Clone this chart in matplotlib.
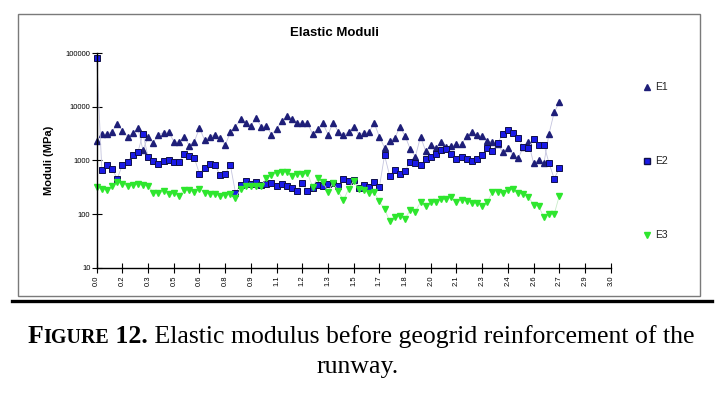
import matplotlib
matplotlib.use("Agg")
import matplotlib.pyplot as plt
from matplotlib.lines import Line2D
from matplotlib.patches import Rectangle

# chainage (km) of each test point
chainage = [0.00, 0.03, 0.06, 0.09, 0.12, 0.15, 0.18, 0.21, 0.24, 0.27,
            0.30, 0.33, 0.36, 0.39, 0.42, 0.45, 0.48, 0.51, 0.54, 0.57,
            0.60, 0.63, 0.66, 0.69, 0.72, 0.75, 0.78, 0.81, 0.84, 0.87,
            0.90, 0.93, 0.96, 0.99, 1.02, 1.05, 1.08, 1.11, 1.14, 1.17,
            1.20, 1.23, 1.26, 1.29, 1.32, 1.35, 1.38, 1.41, 1.44, 1.47,
            1.50, 1.53, 1.56, 1.59, 1.62, 1.65, 1.68, 1.71, 1.74, 1.77,
            1.80, 1.83, 1.86, 1.89, 1.92, 1.95, 1.98, 2.01, 2.04, 2.07,
            2.10, 2.13, 2.16, 2.19, 2.22, 2.25, 2.28, 2.31, 2.34, 2.37,
            2.40, 2.43, 2.46, 2.49, 2.52, 2.55, 2.58, 2.61, 2.64, 2.67,
            2.70]

# moduli (MPa)
e1 = [2360, 3100, 3100, 3470, 4820, 3620, 2760, 3190, 4000, 1560,
      2800, 2160, 3050, 3320, 3420, 2260, 2200, 2800, 1900, 2260,
      4060, 2390, 2800, 3050, 2640, 1930, 3370, 4300, 5900, 4960,
      4490, 6150, 4300, 4430, 3050, 3890, 5480, 6790, 6060, 5040,
      4960, 4960, 3140, 3840, 4960, 3050, 5040, 3470, 2970, 3420,
      4300, 3050, 3300, 3460, 4930, 2780, 1730, 2340, 2630, 4270,
      2860, 1640, 1180, 2780, 1500, 1920, 1730, 2240, 1780, 1880,
      2000, 2000, 2900, 3330, 2940, 2860, 2300, 2210, 2000, 1430,
      1700, 1270, 1090, 1800, 2210, 880, 1010, 880, 3150, 7900,
      12200]

e2 = [83000, 665, 838, 695, 458, 825, 952, 1290, 1420, 3140,
      1165, 995, 873, 995, 1010, 952, 952, 1325, 1233, 1115,
      560, 735, 873, 825, 535, 560, 825, 250, 349, 420,
      359, 403, 344, 364, 386, 329, 369, 333, 306, 269,
      380, 269, 311, 353, 339, 359, 385, 339, 457, 407,
      426, 302, 353, 320, 391, 320, 1250, 520, 673, 567,
      636, 950, 884, 811, 1050, 1178, 1340, 1570, 1640, 1340,
      1050, 1178, 1080, 977, 1050, 1280, 1730, 1530, 2150, 3070,
      3760, 3310, 2630, 1760, 1690, 2520, 1970, 1970, 898, 457,
      713]

e3 = [315, 293, 285, 329, 402, 364, 339, 349, 359, 344,
      339, 251, 243, 265, 233, 243, 220, 281, 277, 254,
      298, 251, 240, 233, 214, 226, 233, 199, 293, 339,
      333, 333, 333, 478, 543, 575, 619, 619, 521, 552,
      552, 584, 324, 471, 402, 262, 385, 268, 181, 294,
      423, 294, 287, 251, 253, 172, 122, 75, 90, 94,
      82, 121, 111, 168, 139, 165, 170, 188, 188, 205,
      168, 185, 178, 158, 163, 141, 170, 258, 262, 251,
      281, 289, 243, 240, 208, 150, 139, 87, 100, 99,
      220]

xticks = [0.0, 0.15, 0.3, 0.45, 0.6, 0.75, 0.9, 1.05, 1.2, 1.35, 1.5,
          1.65, 1.8, 1.95, 2.1, 2.25, 2.4, 2.55, 2.7, 2.85, 3.0]
xtick_labels = ["0.0", "0.2", "0.3", "0.5", "0.6", "0.8", "0.9", "1.1", "1.2",
                "1.3", "1.5", "1.7", "1.8", "2.0", "2.1", "2.3", "2.4", "2.6",
                "2.7", "2.9", "3.0"]
yticks = [10, 100, 1000, 10000, 100000]
series_names = ["E1", "E2", "E3"]

plt.rcParams["font.family"] = ["Liberation Sans", "DejaVu Sans"]

W, H = 725, 396
fig = plt.figure(figsize=(W / 100, H / 100), dpi=100)
fig.patch.set_facecolor("white")

def fx(px):
    return px / W

def fy(py):
    return (H - py) / H

# chart frame
fig.add_artist(Rectangle((fx(18), fy(296)), fx(700) - fx(18), fy(14) - fy(296),
                         transform=fig.transFigure, fill=False,
                         edgecolor="#7a7a7a", linewidth=1.0))

ax = fig.add_axes([fx(96.7), fy(267.7), fx(610.7) - fx(96.7), fy(53.3) - fy(267.7)])

line_kw = dict(linewidth=0.6, clip_on=False)
ax.plot(chainage, e1, color="#c4c4de", marker="^", markersize=3.8,
        markerfacecolor="#1e1e78", markeredgecolor="#1e1e78", **line_kw)
ax.plot(chainage, e2, color="#c4c4de", marker="s", markersize=4.8,
        markerfacecolor="#1a1ae8", markeredgecolor="#10104a",
        markeredgewidth=0.7, **line_kw)
ax.plot(chainage, e3, color="#c8ecc8", marker="v", markersize=4.0,
        markerfacecolor="#2ee62e", markeredgecolor="#2ee62e", **line_kw)

ax.set_yscale("log")
ax.set_ylim(10, 100000)
ax.set_xlim(0, 3.0)
ax.set_yticks(yticks)
ax.set_yticklabels([str(v) for v in yticks])
ax.minorticks_off()
ax.set_xticks(xticks)
ax.set_xticklabels(xtick_labels, rotation=90)
ax.tick_params(axis="both", direction="inout", length=7, width=0.8,
               labelsize=5.5, colors="black", pad=2)
ax.tick_params(axis="y", pad=1)
for s in ["top", "right"]:
    ax.spines[s].set_visible(False)
for s in ["left", "bottom"]:
    ax.spines[s].set_linewidth(1.0)
ax.patch.set_alpha(0)

ax.set_ylabel("Moduli (MPa)", fontsize=8, fontweight="bold", labelpad=8.5)
fig.text(fx(334), fy(33), "Elastic Moduli", fontsize=9.5, fontweight="bold",
         ha="center", va="center")

# legend on the right
legend_marks = [("^", "#1e1e78", "#1e1e78", 3.8, 87),
                ("s", "#1a1ae8", "#10104a", 4.2, 161),
                ("v", "#2ee62e", "#2ee62e", 4.0, 235)]
for name, (mk, fc, ec, ms, py) in zip(series_names, legend_marks):
    fig.add_artist(Line2D([fx(647)], [fy(py)], transform=fig.transFigure,
                          marker=mk, markersize=ms, markerfacecolor=fc,
                          markeredgecolor=ec, linestyle="none"))
    fig.text(fx(655), fy(py), name, fontsize=7.5, ha="left", va="center",
             color="#222222")

# thick rule under the chart
fig.add_artist(Line2D([fx(12), fx(712)], [fy(300.7), fy(300.7)],
                      transform=fig.transFigure, color="black", linewidth=2.4))

# caption (small caps "Figure")
serif = ["Liberation Serif", "DejaVu Serif"]
big = 18.5
pieces = [("F", big, "bold"), ("IGURE", big * 0.78, "bold"), ("\u00a012.", big, "bold"),
          ("\u00a0Elastic modulus before geogrid reinforcement of the", big, "normal")]
renderer = fig.canvas.get_renderer()
texts = []
widths = []
for txt, size, weight in pieces:
    t = fig.text(0, fy(343), txt, fontsize=size, fontweight=weight,
                 family=serif, ha="left", va="baseline")
    bb = t.get_window_extent(renderer)
    texts.append(t)
    widths.append(bb.width)
total = sum(widths)
x0 = 361 - total / 2
for t, w in zip(texts, widths):
    t.set_x(fx(x0))
    x0 += w
fig.text(fx(358), fy(373), "runway.", fontsize=big, family=serif,
         ha="center", va="baseline")

fig.savefig("out.png", dpi=100)
